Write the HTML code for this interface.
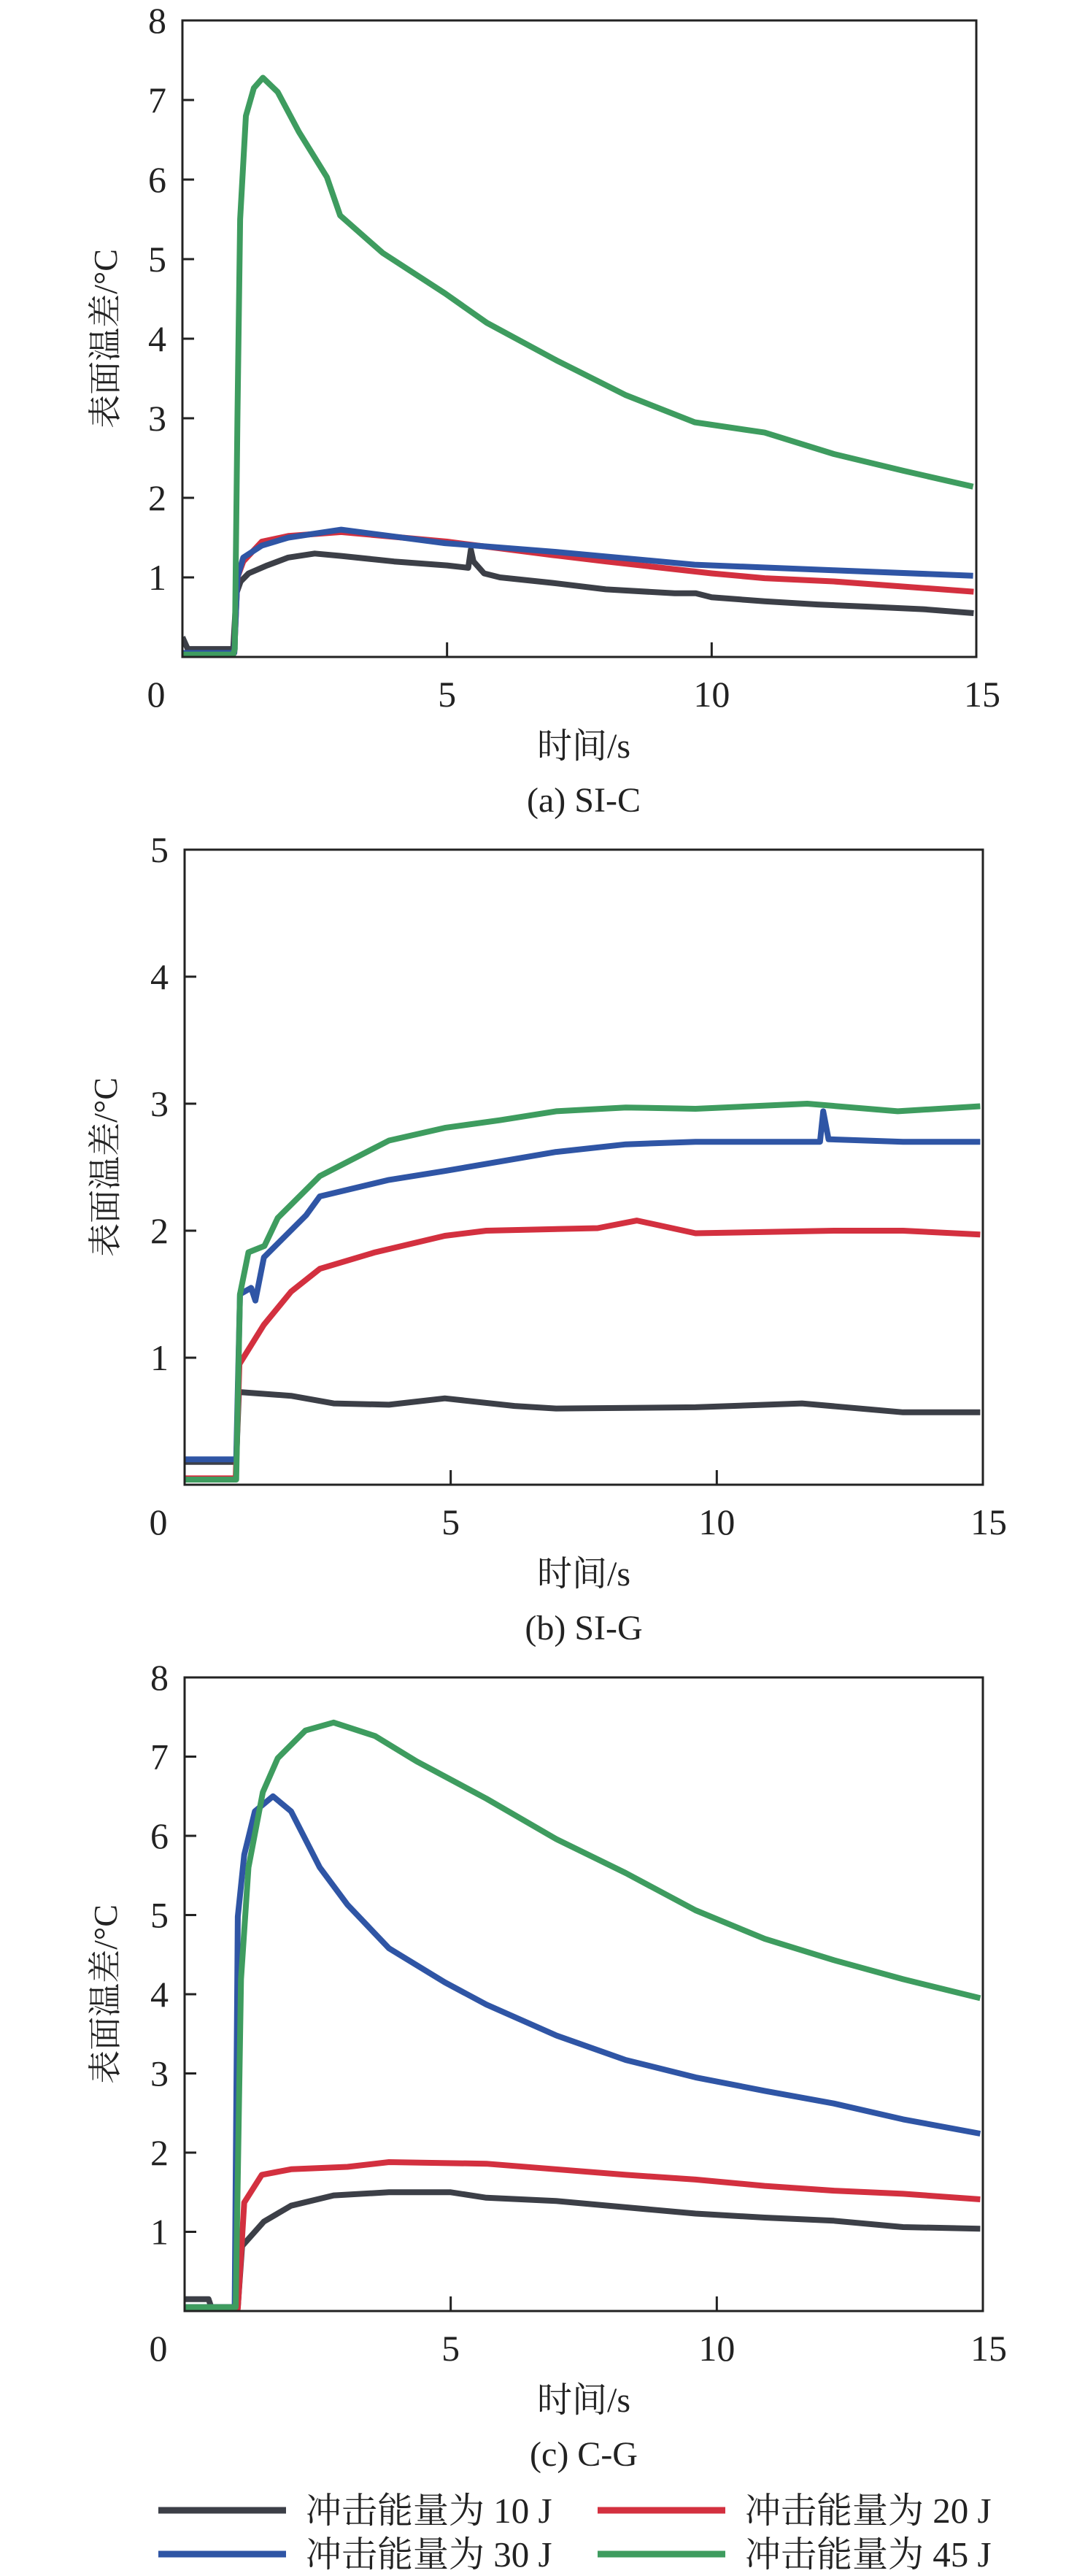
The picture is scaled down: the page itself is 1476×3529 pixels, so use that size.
<!DOCTYPE html>
<html><head><meta charset="utf-8">
<style>
html,body{margin:0;padding:0;background:#fff;}
svg{display:block;}
text{font-family:"Liberation Serif","Noto Serif CJK SC",serif;fill:#222;}
</style></head>
<body>
<svg id="fig" width="1476" height="3529" viewBox="0 0 1476 3529" xmlns="http://www.w3.org/2000/svg"></svg>
<script>
// ---- Chart (a) SI-C data ----
const aBlackT=[0,0.1,0.96,1.02,1.1,1.25,1.6,2,2.5,3,4,5,5.4,5.45,5.5,5.7,6,7,8,9.3,9.7,10,11,12,13,14,14.95];
const aBlackV=[0.25,0.1,0.1,0.8,0.95,1.05,1.15,1.25,1.3,1.27,1.2,1.15,1.12,1.35,1.2,1.05,1.0,0.93,0.85,0.8,0.8,0.75,0.7,0.66,0.63,0.6,0.55];
const aRedT=[0,0.98,1.04,1.15,1.5,2,3,5,7,8,10,11,12.3,14.95];
const aRedV=[0.05,0.05,1.0,1.2,1.45,1.52,1.57,1.45,1.28,1.2,1.05,0.99,0.95,0.82];
const aBlueT=[0,0.98,1.04,1.15,1.5,2,3,4.96,7.06,9.68,12.3,14.94];
const aBlueV=[0.05,0.05,1.0,1.25,1.4,1.5,1.6,1.43,1.32,1.16,1.09,1.02];
const aGreenT=[0,0.96,0.99,1.04,1.09,1.2,1.35,1.52,1.8,2.2,2.73,2.98,3.78,4.96,5.75,7.06,8.38,9.68,11.0,12.31,13.62,14.94];
const aGreenV=[0.03,0.03,0.1,3,5.5,6.8,7.15,7.28,7.1,6.6,6.03,5.55,5.08,4.57,4.2,3.73,3.29,2.95,2.82,2.55,2.34,2.14];
// ---- Chart (b) SI-G data ----
const bBlackT=[0,0.97,1.02,2,2.8,3.84,4.89,6.2,6.98,9.6,11.6,13.5,14.95];
const bBlackV=[0.18,0.18,0.73,0.7,0.64,0.63,0.68,0.62,0.6,0.61,0.64,0.57,0.57];
const bRedT=[0,0.96,1.03,1.49,2.0,2.54,3.58,4.89,5.67,7.76,8.5,9.6,12.2,13.5,14.95];
const bRedV=[0.05,0.05,0.95,1.26,1.52,1.7,1.83,1.96,2.0,2.02,2.08,1.98,2.0,2.0,1.97];
const bBlueT=[0,0.97,1.04,1.25,1.33,1.49,2.28,2.54,3.84,4.89,6.98,8.29,9.6,11.94,12.0,12.1,13.5,14.95];
const bBlueV=[0.2,0.2,1.5,1.55,1.45,1.79,2.12,2.27,2.4,2.47,2.62,2.68,2.7,2.7,2.94,2.72,2.7,2.7];
const bGreenT=[0,0.97,1.04,1.2,1.5,1.75,2.54,3.84,4.89,5.93,6.98,8.29,9.6,11.7,13.4,14.95];
const bGreenV=[0.04,0.04,1.5,1.83,1.88,2.1,2.43,2.71,2.81,2.87,2.94,2.97,2.96,3.0,2.94,2.98];
// ---- Chart (c) C-G data ----
const cBlackT=[0,0.45,0.5,1.0,1.08,1.49,2.0,2.8,3.84,5.0,5.67,6.98,8.29,9.6,10.9,12.2,13.5,14.95];
const cBlackV=[0.15,0.15,0.05,0.05,0.82,1.13,1.33,1.46,1.5,1.5,1.43,1.39,1.31,1.23,1.18,1.14,1.06,1.04];
const cRedT=[0,1.0,1.12,1.45,2.0,3.06,3.84,5.67,6.98,8.29,9.6,10.9,12.2,13.5,14.95];
const cRedV=[0.03,0.03,1.37,1.72,1.79,1.82,1.88,1.86,1.79,1.72,1.66,1.58,1.52,1.48,1.41];
const cBlueT=[0,0.94,1.0,1.12,1.32,1.66,2.0,2.54,3.06,3.84,4.89,5.67,6.98,8.29,9.6,10.9,12.2,13.5,14.95];
const cBlueV=[0.05,0.05,4.98,5.76,6.31,6.5,6.31,5.6,5.13,4.58,4.15,3.87,3.48,3.17,2.95,2.78,2.62,2.42,2.24];
const cGreenT=[0,0.96,1.06,1.2,1.47,1.75,2.27,2.8,3.58,4.36,5.67,6.98,8.29,9.6,10.9,12.2,13.5,14.95];
const cGreenV=[0.05,0.05,4.19,5.6,6.55,6.98,7.33,7.43,7.26,6.94,6.47,5.96,5.53,5.06,4.7,4.43,4.19,3.95];

const xTicks=[0,5,10,15];
const COLORS={black:'#3c3f47',red:'#d3303f',blue:'#2f55a5',green:'#3e9c5f'};
const NS='http://www.w3.org/2000/svg';
const svg=document.getElementById('fig');
function mk(tag,attrs,parent){const e=document.createElementNS(NS,tag);for(const k in attrs)e.setAttribute(k,attrs[k]);(parent||svg).appendChild(e);return e;}

function drawChart(id,box,yMax,series,caption){
  const g=mk('g',{});
  
  
  const xs=v=>box.x0+(box.x1-box.x0)*v/15;
  const ys=v=>box.y1-(box.y1-box.y0)*v/yMax;
  const cp=mk('clipPath',{id:'clip-'+id},g);
  mk('rect',{x:box.x0,y:box.y0,width:box.x1-box.x0,height:box.y1-box.y0},cp);
  series.forEach(s=>{
    const pts=s.t.map((t,i)=>xs(t).toFixed(1)+','+ys(s.v[i]).toFixed(1)).join(' ');
    const pl=mk('polyline',{points:pts,fill:'none',stroke:COLORS[s.c],'stroke-width':8,'stroke-linejoin':'round','clip-path':'url(#clip-'+id+')'},g);
    
    
  });
  const fr=mk('rect',{x:box.x0,y:box.y0,width:box.x1-box.x0,height:box.y1-box.y0,fill:'none',stroke:'#222','stroke-width':3},g);
  
  
  for(let v=1;v<yMax;v++){
    mk('line',{x1:box.x0,x2:box.x0+16,y1:ys(v),y2:ys(v),stroke:'#222','stroke-width':3},g);
  }
  for(let v=1;v<=yMax;v++){
    const t=mk('text',{x:box.x0-22,y:ys(v)+17,'text-anchor':'end','font-size':50},g);
    t.textContent=v;
    
    
  }
  xTicks.forEach(v=>{
    if(v>0&&v<15) mk('line',{x1:xs(v),x2:xs(v),y1:box.y1,y2:box.y1-20,stroke:'#222','stroke-width':3},g);
    const t=mk('text',{x:v===0?box.x0-36:xs(v)+(v===15?8:0),y:box.y1+68,'text-anchor':'middle','font-size':50},g);
    t.textContent=v;
    
    
  });
  const yc=(box.y0+box.y1)/2;
  const yl=mk('text',{x:0,y:0,'text-anchor':'middle','font-size':46,transform:'translate(160,'+yc+') rotate(-90)'},g);
  yl.textContent='表面温差/°C';
  
  
  const xl=mk('text',{x:800,y:box.y1+138,'text-anchor':'middle','font-size':48},g);
  xl.textContent='时间/s';
  
  
  const cap=mk('text',{x:800,y:box.y1+212,'text-anchor':'middle','font-size':48},g);
  cap.textContent=caption;
  
  
}

drawChart('a',{x0:250,x1:1338,y0:28,y1:900},8,[
 {name:'10J',c:'black',t:aBlackT,v:aBlackV},{name:'20J',c:'red',t:aRedT,v:aRedV},
 {name:'30J',c:'blue',t:aBlueT,v:aBlueV},{name:'45J',c:'green',t:aGreenT,v:aGreenV}],'(a) SI-C');
drawChart('b',{x0:253,x1:1347,y0:1164,y1:2034},5,[
 {name:'10J',c:'black',t:bBlackT,v:bBlackV},{name:'20J',c:'red',t:bRedT,v:bRedV},
 {name:'30J',c:'blue',t:bBlueT,v:bBlueV},{name:'45J',c:'green',t:bGreenT,v:bGreenV}],'(b) SI-G');
drawChart('c',{x0:253,x1:1347,y0:2298,y1:3166},8,[
 {name:'10J',c:'black',t:cBlackT,v:cBlackV},{name:'20J',c:'red',t:cRedT,v:cRedV},
 {name:'30J',c:'blue',t:cBlueT,v:cBlueV},{name:'45J',c:'green',t:cGreenT,v:cGreenV}],'(c) C-G');

// legend
const legend=[
 {c:'black',label:'冲击能量为 10 J',x:217,y:3439},
 {c:'red',label:'冲击能量为 20 J',x:819,y:3439},
 {c:'blue',label:'冲击能量为 30 J',x:217,y:3499},
 {c:'green',label:'冲击能量为 45 J',x:819,y:3499}];
const lg=mk('g',{});


legend.forEach(L=>{
  const e=mk('g',{},lg);
  
  
  mk('line',{x1:L.x,x2:L.x+175,y1:L.y,y2:L.y,stroke:COLORS[L.c],'stroke-width':9},e);
  const t=mk('text',{x:L.x+202,y:L.y+17,'font-size':49},e);
  t.textContent=L.label;
});
</script>
</body></html>
